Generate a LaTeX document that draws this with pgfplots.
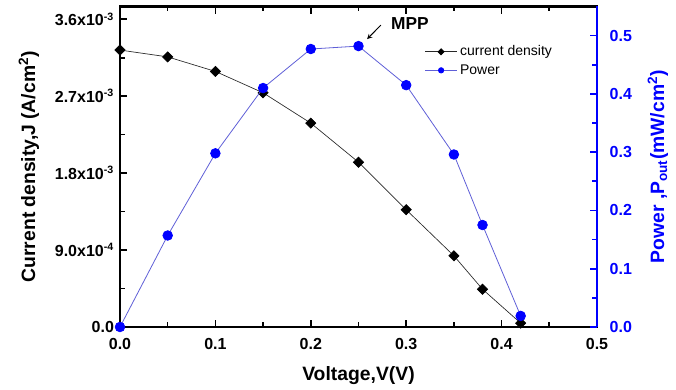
\documentclass[border=0pt]{standalone}
\usepackage{pgfplots}
\pgfplotsset{compat=1.18}
\usepackage{fontspec}
\setmainfont{Liberation Sans}
\definecolor{pblue}{RGB}{0,0,255}
\definecolor{plink}{RGB}{95,95,215}
\definecolor{jlink}{RGB}{40,40,40}

\pgfplotstableread{
V     J
0.00  3.24e-3
0.05  3.16e-3
0.10  2.99e-3
0.15  2.74e-3
0.20  2.385e-3
0.25  1.928e-3
0.30  1.372e-3
0.35  0.833e-3
0.38  0.442e-3
0.42  0.045e-3
}\jtable

\pgfplotstableread{
V     P
0.00  0.000
0.05  0.157
0.10  0.298
0.15  0.410
0.20  0.477
0.25  0.482
0.30  0.415
0.35  0.296
0.38  0.175
0.42  0.019
}\ptable

\pgfplotsset{
  common/.style={
    at={(0,0)}, anchor=south west, scale only axis,
    width=357.75pt, height=240.4pt,
    xmin=0, xmax=0.5,
    major tick length=5.5pt, minor tick length=3.5pt,
    tick label style={font=\fontsize{12}{12}\selectfont\bfseries},
    label style={font=\fontsize{14.5}{15}\selectfont\bfseries},
    scaled ticks=false,
  },
  legend image code/.code={%
    \draw[mark repeat=2, mark phase=2]
      plot coordinates {(0cm,0cm) (0.42cm,0cm) (0.84cm,0cm)};},
}

\begin{document}
\begin{tikzpicture}
% page frame
\path (-90pt,-45.75pt) rectangle (417pt,245.25pt);

% current density (left axis)
\begin{axis}[common,
  ymin=0, ymax=3.75e-3,
  axis line style={line width=1.7pt},
  tick style={black, line width=1.2pt},
  ytick pos=left,
  xtick pos=both,
  xtick={0,0.1,0.2,0.3,0.4,0.5},
  xticklabels={0.0,0.1,0.2,0.3,0.4,0.5},
  minor xtick={0.05,0.15,0.25,0.35,0.45},
  ytick={0,0.0009,0.0018,0.0027,0.0036},
  yticklabels={0.0,
    9.0x10\textsuperscript{-4},
    1.8x10\textsuperscript{-3},
    2.7x10\textsuperscript{-3},
    3.6x10\textsuperscript{-3}},
  minor ytick={0.00045,0.00135,0.00225,0.00315},
  xticklabel style={yshift=-5pt},
  yticklabel style={xshift=-1pt},
  xlabel={Voltage,V(V)},
  xlabel style={yshift=-6pt},
  ylabel={Current density,J (A/cm\textsuperscript{2})},
  ylabel style={yshift=5pt},
]
\addplot[jlink, line width=0.5pt, mark=square*, mark options={rotate=45, fill=black, draw=black}, mark size=2.7pt]
  table[x=V, y=J] {\jtable};
\end{axis}

% output power (right axis)
\begin{axis}[common,
  ymin=0, ymax=0.55,
  axis x line=none,
  axis y line*=right,
  y axis line style={draw=pblue, line width=1.7pt},
  tick style={pblue, line width=1.2pt},
  yticklabel style={text=pblue, xshift=6pt},
  ylabel style={text=pblue, yshift=-5pt},
  ytick={0,0.1,0.2,0.3,0.4,0.5},
  yticklabels={0.0,0.1,0.2,0.3,0.4,0.5},
  minor ytick={0.05,0.15,0.25,0.35,0.45},
  ylabel={Power ,P\textsubscript{out}(mW/cm\textsuperscript{2})},
  legend style={at={(0.63,0.895)}, anchor=north west, draw=none, fill=none,
    font=\fontsize{10.5}{12}\selectfont, row sep=1pt},
  legend cell align=left,
]
\addlegendimage{jlink, line width=0.6pt, mark=square*, mark options={rotate=45, fill=black, draw=black}, mark size=1.6pt}
\addlegendentry{current density}
\addlegendimage{plink, line width=0.6pt, mark=*, mark options={fill=pblue, draw=pblue}, mark size=2pt}
\addlegendentry{Power}
\addplot[plink, line width=0.6pt, mark=*, mark options={fill=pblue, draw=pblue}, mark size=3.6pt, forget plot]
  table[x=V, y=P] {\ptable};
\draw[-stealth, line width=0.7pt] (axis cs:0.2735,0.518) -- (axis cs:0.259,0.494);
\node[font=\fontsize{13}{13}\selectfont\bfseries, anchor=center] at (axis cs:0.304,0.52) {MPP};
\end{axis}

% inward tick marks along the frame (frame is 357.75pt x 240.4pt)
\begin{scope}[line width=1.2pt]
  % voltage axis, bottom and top
  \foreach \x in {71.55,143.1,214.65,286.2} {
    \draw (\x pt,0pt) -- ++(0pt,5.5pt);
    \draw (\x pt,240.4pt) -- ++(0pt,-5.5pt);
  }
  \foreach \x in {35.775,107.325,178.875,250.425,321.975} {
    \draw (\x pt,0pt) -- ++(0pt,3.5pt);
    \draw (\x pt,240.4pt) -- ++(0pt,-3.5pt);
  }
  % current density axis, left
  \foreach \y in {57.696,115.392,173.088,230.784}
    \draw (0pt,\y pt) -- ++(5.5pt,0pt);
  \foreach \y in {28.848,86.544,144.24,201.936}
    \draw (0pt,\y pt) -- ++(3.5pt,0pt);
  % power axis, right
  \foreach \y in {43.709,87.418,131.127,174.836,218.545}
    \draw[pblue] (357.75pt,\y pt) -- ++(-5.5pt,0pt);
  \foreach \y in {21.855,65.564,109.273,152.982,196.691}
    \draw[pblue] (357.75pt,\y pt) -- ++(-3.5pt,0pt);
\end{scope}
\end{tikzpicture}
\end{document}
